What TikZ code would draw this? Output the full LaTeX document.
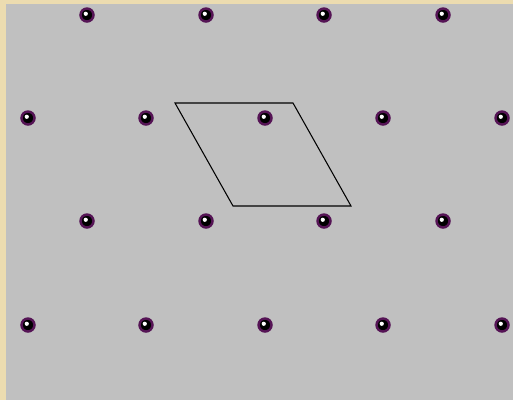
\documentclass[tikz,border=0pt]{standalone}
\usetikzlibrary{calc}
\definecolor{parchment}{RGB}{236,220,176}
\definecolor{panelgray}{RGB}{192,192,192}
\definecolor{atomrim}{RGB}{85,20,85}
\tikzset{
  atom/.style={circle, draw=atomrim, line width=1.4pt, fill=black, minimum size=0.26cm, inner sep=0pt,
    path picture={\fill[white] ($(path picture bounding box.center)+(-0.7pt,0.7pt)$) circle (1.2pt);}},
  cell/.style={line width=0.6pt, black}
}
\begin{document}
\begin{tikzpicture}[x=0.02cm, y=-0.02cm]
  % Background and panel
  \fill[parchment] (0,0) rectangle (513,400);
  \fill[panelgray] (6,4) rectangle (513,400);
  \useasboundingbox (0,0) rectangle (513,400);
  % Lattice points, rows 1 and 3
  \foreach \i/\x in {1/87, 2/206, 3/324, 4/443} {
    \node[atom] (a1\i) at (\x,15) {};
    \node[atom] (a3\i) at (\x,221) {};
  }
  % Lattice points, rows 2 and 4
  \foreach \i/\x in {1/28, 2/146, 3/265, 4/383, 5/502} {
    \node[atom] (a2\i) at (\x,118) {};
    \node[atom] (a4\i) at (\x,325) {};
  }
  % Unit cell
  \coordinate (c1) at (175,103);
  \coordinate (c2) at (293,103);
  \coordinate (c3) at (351,206);
  \coordinate (c4) at (233,206);
  \draw[cell] (c1) -- (c2) -- (c3) -- (c4) -- cycle;
\end{tikzpicture}
\end{document}
